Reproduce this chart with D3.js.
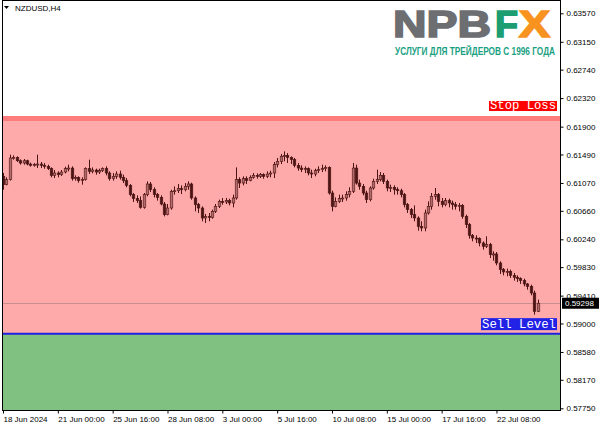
<!DOCTYPE html>
<html><head><meta charset="utf-8">
<script src="https://cdn.jsdelivr.net/npm/d3@7"></script>
<style>body{margin:0;background:#fff;} svg{display:block;}</style>
</head><body><svg id="c" width="600" height="429"></svg>
<script>
const symbolTitle = "NZDUSD,H4";
const xTickIndex = [0,16,32,48,64,80,96,112,128,144];
const xTickLabels = ["18 Jun 2024","21 Jun 00:00","25 Jun 16:00","28 Jun 08:00","3 Jul 00:00","5 Jul 16:00","10 Jul 08:00","15 Jul 00:00","17 Jul 16:00","22 Jul 08:00"];
const yTicks = [0.63570,0.63150,0.62740,0.62320,0.61900,0.61490,0.61070,0.60660,0.60240,0.59830,0.59410,0.59000,0.58580,0.58170,0.57750];
const stopLoss = 0.6202;
const sellLevel = 0.5885;
const lastPrice = 0.59298;
const opens = [
0.61168,0.61045,0.61119,0.61438,0.61447,0.61398,0.61364,0.61398,0.61349,0.61330,
0.61340,0.61349,0.61330,0.61315,0.61281,0.61182,0.61217,0.61192,0.61231,0.61281,
0.61290,0.61133,0.61153,0.61104,0.61119,0.61281,0.61241,0.61261,0.61231,0.61251,
0.61281,0.61217,0.61133,0.61168,0.61202,0.61153,0.61104,0.61035,0.60898,0.60839,
0.60809,0.60711,0.60898,0.61055,0.60971,0.60898,0.60858,0.60760,0.60603,0.60701,
0.60947,0.60956,0.60986,0.60971,0.61020,0.61055,0.60849,0.60750,0.60701,0.60554,
0.60578,0.60564,0.60652,0.60726,0.60799,0.60790,0.60809,0.60775,0.60849,0.61119,
0.61069,0.61133,0.61104,0.61153,0.61182,0.61168,0.61192,0.61168,0.61202,0.61217,
0.61340,0.61389,0.61462,0.61477,0.61447,0.61413,0.61330,0.61290,0.61266,0.61281,
0.61217,0.61202,0.61251,0.61266,0.61281,0.61300,0.60922,0.60726,0.60799,0.60839,
0.60849,0.60898,0.60947,0.61290,0.61069,0.61020,0.60922,0.60824,0.60996,0.61094,
0.61119,0.61182,0.61094,0.60996,0.61006,0.60971,0.60956,0.60898,0.60750,0.60677,
0.60603,0.60554,0.60431,0.60407,0.60628,0.60726,0.60873,0.60898,0.60799,0.60750,
0.60809,0.60775,0.60750,0.60726,0.60740,0.60578,0.60456,0.60299,0.60259,0.60250,
0.60186,0.60137,0.60161,0.60014,0.60024,0.59891,0.59793,0.59759,0.59768,0.59709,
0.59680,0.59660,0.59631,0.59582,0.59547,0.59449,0.59179];
const highs = [
0.61217,0.61153,0.61487,0.61477,0.61462,0.61418,0.61423,0.61413,0.61369,0.61364,
0.61487,0.61379,0.61364,0.61340,0.61300,0.61261,0.61241,0.61261,0.61310,0.61340,
0.61315,0.61182,0.61168,0.61153,0.61300,0.61413,0.61300,0.61281,0.61281,0.61300,
0.61315,0.61241,0.61217,0.61241,0.61251,0.61192,0.61143,0.61055,0.60922,0.60888,
0.60873,0.60922,0.61094,0.61084,0.61006,0.60922,0.60888,0.60790,0.60760,0.60971,
0.61020,0.61055,0.61035,0.61069,0.61094,0.61074,0.60873,0.60775,0.60726,0.60613,
0.60628,0.60677,0.60760,0.60824,0.60849,0.60849,0.60839,0.60898,0.61300,0.61153,
0.61168,0.61168,0.61182,0.61217,0.61212,0.61217,0.61212,0.61241,0.61251,0.61379,
0.61438,0.61497,0.61536,0.61511,0.61462,0.61438,0.61364,0.61330,0.61315,0.61300,
0.61266,0.61281,0.61315,0.61340,0.61330,0.61315,0.60956,0.60858,0.60898,0.60898,
0.60947,0.61006,0.61364,0.61340,0.61119,0.61055,0.60956,0.61020,0.61133,0.61266,
0.61231,0.61217,0.61119,0.61045,0.61035,0.61006,0.60986,0.60922,0.60775,0.60701,
0.60740,0.60578,0.60505,0.60677,0.60799,0.60922,0.60996,0.60922,0.60849,0.60849,
0.60839,0.60809,0.60790,0.60775,0.60760,0.60603,0.60480,0.60318,0.60299,0.60269,
0.60210,0.60284,0.60186,0.60063,0.60053,0.59916,0.59817,0.59808,0.59793,0.59744,
0.59709,0.59680,0.59660,0.59596,0.59572,0.59483,0.59351];
const lows = [
0.60971,0.61035,0.61104,0.61413,0.61379,0.61340,0.61340,0.61330,0.61310,0.61310,
0.61290,0.61290,0.61281,0.61261,0.61153,0.61143,0.61153,0.61173,0.61212,0.61241,
0.61104,0.61104,0.61074,0.61045,0.61104,0.61202,0.61212,0.61192,0.61202,0.61231,
0.61182,0.61104,0.61104,0.61133,0.61119,0.61069,0.61006,0.60873,0.60790,0.60775,
0.60691,0.60691,0.60873,0.60937,0.60858,0.60809,0.60740,0.60578,0.60593,0.60677,
0.60898,0.60922,0.60907,0.60947,0.60971,0.60824,0.60652,0.60628,0.60505,0.60480,
0.60505,0.60544,0.60628,0.60701,0.60750,0.60760,0.60740,0.60711,0.60824,0.60996,
0.61035,0.61055,0.61094,0.61133,0.61133,0.61143,0.61133,0.61143,0.61153,0.61143,
0.61300,0.61349,0.61389,0.61364,0.61349,0.61300,0.61251,0.61231,0.61217,0.61182,
0.61143,0.61168,0.61217,0.61231,0.61241,0.60898,0.60652,0.60711,0.60775,0.60790,
0.60809,0.60858,0.60922,0.61045,0.60971,0.60888,0.60775,0.60799,0.60971,0.61055,
0.61094,0.61055,0.60947,0.60937,0.60898,0.60898,0.60858,0.60711,0.60628,0.60554,
0.60505,0.60367,0.60358,0.60358,0.60603,0.60677,0.60824,0.60726,0.60711,0.60726,
0.60711,0.60677,0.60677,0.60652,0.60544,0.60407,0.60250,0.60210,0.60186,0.60137,
0.60088,0.60112,0.59965,0.59925,0.59857,0.59729,0.59709,0.59695,0.59670,0.59631,
0.59611,0.59582,0.59547,0.59498,0.59415,0.59130,0.59169];
const closes = [
0.61045,0.61119,0.61438,0.61447,0.61398,0.61364,0.61398,0.61349,0.61330,0.61340,
0.61349,0.61330,0.61315,0.61281,0.61182,0.61217,0.61192,0.61231,0.61281,0.61290,
0.61133,0.61153,0.61104,0.61119,0.61281,0.61241,0.61261,0.61231,0.61251,0.61281,
0.61217,0.61133,0.61168,0.61202,0.61153,0.61104,0.61035,0.60898,0.60839,0.60809,
0.60711,0.60898,0.61055,0.60971,0.60898,0.60858,0.60760,0.60603,0.60701,0.60947,
0.60956,0.60986,0.60971,0.61020,0.61055,0.60849,0.60750,0.60701,0.60554,0.60578,
0.60564,0.60652,0.60726,0.60799,0.60790,0.60809,0.60775,0.60849,0.61119,0.61069,
0.61133,0.61104,0.61153,0.61182,0.61168,0.61192,0.61168,0.61202,0.61217,0.61340,
0.61389,0.61462,0.61477,0.61447,0.61413,0.61330,0.61290,0.61266,0.61281,0.61217,
0.61202,0.61251,0.61266,0.61281,0.61300,0.60922,0.60726,0.60799,0.60839,0.60849,
0.60898,0.60947,0.61290,0.61069,0.61020,0.60922,0.60824,0.60996,0.61094,0.61119,
0.61182,0.61094,0.60996,0.61006,0.60971,0.60956,0.60898,0.60750,0.60677,0.60603,
0.60554,0.60431,0.60407,0.60628,0.60726,0.60873,0.60898,0.60799,0.60750,0.60809,
0.60775,0.60750,0.60726,0.60740,0.60578,0.60456,0.60299,0.60259,0.60250,0.60186,
0.60137,0.60161,0.60014,0.60024,0.59891,0.59793,0.59759,0.59768,0.59709,0.59680,
0.59660,0.59631,0.59582,0.59547,0.59449,0.59179,0.59298];

const svg = d3.select("#c");
const L = 2.5, R = 560.5, T = 0.5, B = 410.5;
const font = "'Liberation Sans', Arial, sans-serif";
const x = d3.scaleLinear().domain([0, opens.length - 1]).range([3, 537.6]);
const y = d3.scaleLinear().domain([0.5775, 0.6357]).range([408.3, 13.3]);

svg.append("defs").append("clipPath").attr("id","plot")
  .append("rect").attr("x",L).attr("y",T).attr("width",R-L).attr("height",B-T);
const g = svg.append("g").attr("clip-path","url(#plot)");
g.append("rect").attr("x",L).attr("y",T).attr("width",R-L).attr("height",B-T).attr("fill","#fff");
// zones
g.append("rect").attr("x",L).attr("width",R-L).attr("y",y(stopLoss)).attr("height",y(sellLevel)-y(stopLoss)).attr("fill","#ffaaaa");
g.append("rect").attr("x",L).attr("width",R-L).attr("y",y(sellLevel)).attr("height",B-y(sellLevel)).attr("fill","#80c080");
// stop loss line (thick)
g.append("rect").attr("x",L).attr("width",R-L).attr("y",y(stopLoss)-2.5).attr("height",5).attr("fill","#ff7c7c");
// sell level line
g.append("line").attr("x1",L).attr("x2",R).attr("y1",y(sellLevel)).attr("y2",y(sellLevel)).attr("stroke","#2020e0").attr("stroke-width",2);
// last price line
g.append("line").attr("x1",L).attr("x2",R).attr("y1",Math.round(y(lastPrice))+0.5).attr("y2",Math.round(y(lastPrice))+0.5).attr("stroke","#c88d8d").attr("stroke-width",1);

// candles
const idx = d3.range(opens.length);
const cg = g.append("g");
const bw = 2.6;
cg.selectAll("line.w").data(idx).join("line").attr("class","w")
  .attr("x1",i=>Math.round(x(i))+0.5).attr("x2",i=>Math.round(x(i))+0.5)
  .attr("y1",i=>y(highs[i])).attr("y2",i=>y(lows[i]))
  .attr("stroke","#4d1414").attr("stroke-width",1);
cg.selectAll("rect.b").data(idx).join("rect").attr("class","b")
  .attr("x",i=>Math.round(x(i))+0.5-bw/2)
  .attr("y",i=>y(Math.max(opens[i],closes[i])))
  .attr("width",bw)
  .attr("height",i=>Math.max(1,Math.abs(y(opens[i])-y(closes[i]))))
  .attr("fill",i=>closes[i]>=opens[i]?"#b46a6a":"#4d1414")
  .attr("stroke","#4d1414").attr("stroke-width",0.6);

// labels of levels
const slY = y(stopLoss);
g.append("rect").attr("x",489).attr("y",slY-17.5).attr("width",68).attr("height",10).attr("fill","#ff0000");
g.append("text").attr("x",490).attr("y",slY-9).attr("fill","#fff")
  .attr("font-family","'Liberation Mono','Courier New',monospace").attr("font-size",12)
  .attr("textLength",66).attr("lengthAdjust","spacingAndGlyphs").text("Stop Loss");
const svY = y(sellLevel);
g.append("rect").attr("x",481).attr("y",svY-15.5).attr("width",76).attr("height",12).attr("fill","#2222e6");
g.append("text").attr("x",482).attr("y",svY-6).attr("fill","#fff")
  .attr("font-family","'Liberation Mono','Courier New',monospace").attr("font-size",12)
  .attr("textLength",74).attr("lengthAdjust","spacingAndGlyphs").text("Sell Level");

// border
svg.append("rect").attr("x",L).attr("y",T).attr("width",R-L).attr("height",B-T)
  .attr("fill","none").attr("stroke","#000").attr("stroke-width",1);

// right axis
const ya = svg.append("g").attr("transform",`translate(${R},0)`)
  .call(d3.axisRight(y).tickValues(yTicks).tickSize(3).tickPadding(3).tickFormat(d3.format(".5f")));
ya.select(".domain").remove();
ya.selectAll("text").attr("font-family",font).attr("font-size",8).attr("fill","#000");
// last price tag
svg.append("rect").attr("x",562).attr("y",y(lastPrice)-5.5).attr("width",37).attr("height",11).attr("fill","#000");
svg.append("text").attr("x",565).attr("y",y(lastPrice)+3).attr("fill","#fff")
  .attr("font-family",font).attr("font-size",8).text(d3.format(".5f")(lastPrice));

// bottom axis
const xa = svg.append("g").attr("transform",`translate(0,${B})`)
  .call(d3.axisBottom(x).tickValues(xTickIndex).tickSize(3).tickPadding(3)
    .tickFormat((d,i)=>xTickLabels[i]));
xa.select(".domain").remove();
xa.selectAll("text").attr("font-family",font).attr("font-size",8).attr("fill","#000").attr("text-anchor","start");

// title
svg.append("path").attr("d","M4,6 L9,6 L6.5,9 Z").attr("fill","#000");
svg.append("text").attr("x",15).attr("y",11).attr("font-family",font).attr("font-size",8).attr("fill","#000").text(symbolTitle);

// logo
const lg = svg.append("g");
const logo = lg.append("text").attr("x",393).attr("y",37).attr("font-family",font).attr("font-weight","bold")
  .attr("font-size",37).attr("stroke-width",1.6);
logo.append("tspan").attr("fill","#6d6e71").attr("stroke","#6d6e71")
  .attr("textLength",98).attr("lengthAdjust","spacingAndGlyphs").text("NPB");
logo.append("tspan").attr("x",495).attr("fill","#1c9e72").attr("stroke","#1c9e72")
  .attr("textLength",23).attr("lengthAdjust","spacingAndGlyphs").text("F");
logo.append("tspan").attr("x",519).attr("fill","#f7931e").attr("stroke","#f7931e")
  .attr("textLength",31).attr("lengthAdjust","spacingAndGlyphs").text("X");
lg.append("text").attr("x",395).attr("y",55).attr("font-family",font).attr("font-weight","bold")
  .attr("font-size",10).attr("fill","#1a9f82")
  .attr("textLength",160).attr("lengthAdjust","spacingAndGlyphs").text("УСЛУГИ ДЛЯ ТРЕЙДЕРОВ С 1996 ГОДА");
</script>
</body></html>
